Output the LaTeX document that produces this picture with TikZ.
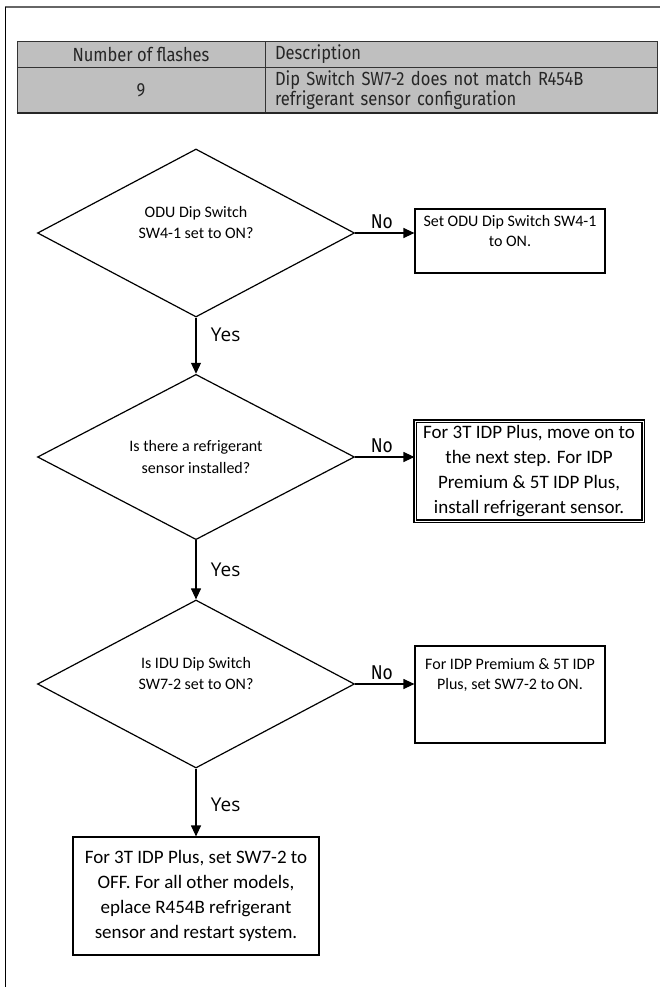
\documentclass[tikz,border=0pt]{standalone}
\usepackage{fontspec}
\setmainfont{Carlito}
\newfontfamily\tabfont[FakeStretch=0.87]{Fira Sans}
\newfontfamily\yesfont{Open Sans}
\usetikzlibrary{arrows.meta, positioning, shapes.geometric}

\begin{document}
\begin{tikzpicture}[x=1pt, y=-1pt,
    cell/.style={rectangle, draw=black!80, fill=black!25, line width=0.8pt, inner sep=0pt,
                 text=black!85, font=\tabfont\fontsize{19}{15.5}\selectfont},
    quest/.style={diamond, draw, line width=1.2pt, minimum width=317pt, minimum height=159pt,
                  inner sep=0pt, align=center, font=\fontsize{16}{21}\selectfont},
    box/.style={rectangle, draw, line width=1.2pt, inner sep=4pt, align=center,
                font=\fontsize{16}{20.5}\selectfont},
    bigbox/.style={box, font=\fontsize{19}{25}\selectfont},
    arr/.style={-{Triangle[length=11pt, width=10pt]}, line width=1.2pt},
    no/.style={above, pos=0.45, font=\tabfont\fontsize{20}{20}\selectfont},
    yes/.style={right, xshift=11pt, font=\yesfont\fontsize{19}{20}\selectfont},
]
\useasboundingbox (0,0) rectangle (665,987);
\draw[black!60, line width=1.5pt] (5,7) -- (660,7);
\draw[line width=1pt] (5,7) -- (5,987);

% flash code table
\node[cell, minimum width=248pt, minimum height=26pt] (numhead) at (141,54) {Number of flashes};
\node[cell, minimum width=392pt, minimum height=26pt, text width=372pt, align=left]
     (deschead) at (461,54) {Description};
\node[cell, minimum width=248pt, minimum height=46pt] (num) at (141,90) {9};
\node[cell, minimum width=392pt, minimum height=46pt, text width=372pt, align=left]
     (desc) at (461,90) {Dip Switch SW7-2 does not match R454B\\refrigerant sensor configuration};
\draw[black!85, line width=2.2pt] (num.south west) -- (desc.south east);

% flow chart
\node[quest] (odu)    at (196,233) {ODU Dip Switch\\SW4-1 set to ON?\\~};
\node[quest] (sensor) at (196,457) {Is there a refrigerant\\sensor installed?};
\node[quest] (idu)    at (196,684) {Is IDU Dip Switch\\SW7-2 set to ON?\\~};

\node[box, minimum width=190pt, minimum height=64pt] (setodu) at (510,241)
     {Set ODU Dip Switch SW4-1\\to ON.\\~};
\node[bigbox, minimum width=228pt, minimum height=100pt, double, double distance=0.8pt]
     (install) at (529,471)
     {For 3T IDP Plus, move on to\\the next step. For IDP\\Premium \& 5T IDP Plus,\\install refrigerant sensor.};
\node[box, minimum width=190pt, minimum height=97pt] (setidu) at (510,694.5)
     {For IDP Premium \& 5T IDP\\Plus, set SW7-2 to ON.\\~\\~};
\node[bigbox, minimum width=246pt, minimum height=118pt] (replace) at (196,896)
     {For 3T IDP Plus, set SW7-2 to\\OFF. For all other models,\\eplace R454B refrigerant\\sensor and restart system.};

\draw[arr] (odu) -- node[no] {No} (setodu.west |- odu);
\draw[arr] (sensor) -- node[no] {No} (install.west |- sensor);
\draw[arr] (idu) -- node[no] {No} (setidu.west |- idu);
\draw[arr] (odu) -- node[yes, pos=0.3] {Yes} (sensor);
\draw[arr] (sensor) -- node[yes, pos=0.5] {Yes} (idu);
\draw[arr] (idu) -- node[yes, pos=0.53] {Yes} (replace);
\end{tikzpicture}
\end{document}
